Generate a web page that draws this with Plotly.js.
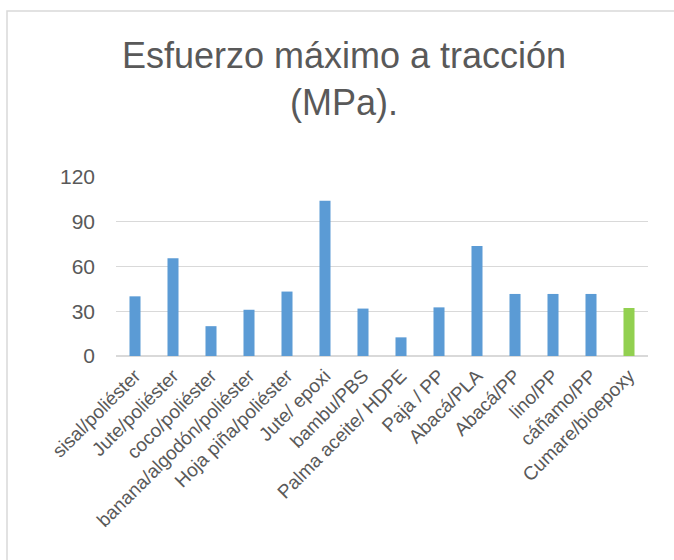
<!DOCTYPE html>
<html>
<head>
<meta charset="utf-8">
<script src="https://cdn.plot.ly/plotly-3.0.1.min.js"></script>
<style>html,body{margin:0;padding:0;background:#fff;}#chart{width:674px;height:560px;}</style>
</head>
<body>
<div id="chart"></div>
<script>
var categories = ["sisal/poliéster","Jute/poliéster","coco/poliéster","banana/algodón/poliéster","Hoja piña/poliéster","Jute/ epoxi","bambu/PBS","Palma aceite/ HDPE","Paja / PP","Abacá/PLA","Abacá/PP","lino/PP","cáñamo/PP","Cumare/bioepoxy"];
var values = [40, 65.5, 20, 31, 43.2, 104, 31.8, 12.5, 32.6, 73.8, 41.6, 41.6, 41.6, 32.2];
var tickValues = [0, 30, 60, 90, 120];
var barColors = categories.map(function(c){ return c === "Cumare/bioepoxy" ? "#92d050" : "#5b9bd5"; });

var trace = {
  type: "bar",
  x: categories,
  y: values,
  marker: {color: barColors},
  hoverinfo: "x+y"
};

var L = 116, R = 26, T = 177, B = 204, W = 674, H = 560;
var pw = W - L - R, ph = H - T - B;
function px2x(p){ return (p - L) / pw; }
function py2y(p){ return (H - B - p) / ph; }

var layout = {
  width: W, height: H,
  margin: {l: L, r: R, t: T, b: B, pad: 0},
  paper_bgcolor: "#ffffff",
  plot_bgcolor: "#ffffff",
  showlegend: false,
  bargap: 0.71,
  font: {family: "Liberation Sans, Arial, sans-serif", color: "#595959"},
  title: {
    text: "Esfuerzo máximo a tracción<br>(MPa).",
    font: {size: 36, color: "#595959", family: "Liberation Sans, Arial, sans-serif"},
    x: 344 / W, xanchor: "center", xref: "container",
    y: 1 - 68 / H, yanchor: "top", yref: "container"
  },
  xaxis: {
    type: "category",
    tickangle: -45,
    tickfont: {size: 19, color: "#595959"},
    showgrid: false,
    showline: false,
    ticks: "",
    zeroline: false,
    ticklabelstandoff: 4,
    fixedrange: true
  },
  yaxis: {
    range: [0, 120],
    tickvals: tickValues,
    ticktext: tickValues.map(String),
    tickfont: {size: 21, color: "#595959"},
    showgrid: true,
    gridcolor: "#d9d9d9",
    gridwidth: 1.3,
    zeroline: true,
    zerolinecolor: "#d9d9d9",
    zerolinewidth: 1.6,
    showline: false,
    ticks: "",
    ticklabelstandoff: 20,
    fixedrange: true
  },
  shapes: [{
    type: "rect", xref: "paper", yref: "paper",
    x0: px2x(7), x1: px2x(690), y0: py2y(600), y1: py2y(11),
    line: {color: "#d9d9d9", width: 1.5},
    fillcolor: "rgba(0,0,0,0)", layer: "below"
  }]
};

Plotly.newPlot("chart", [trace], layout, {displayModeBar: false, staticPlot: true});
</script>
</body>
</html>
